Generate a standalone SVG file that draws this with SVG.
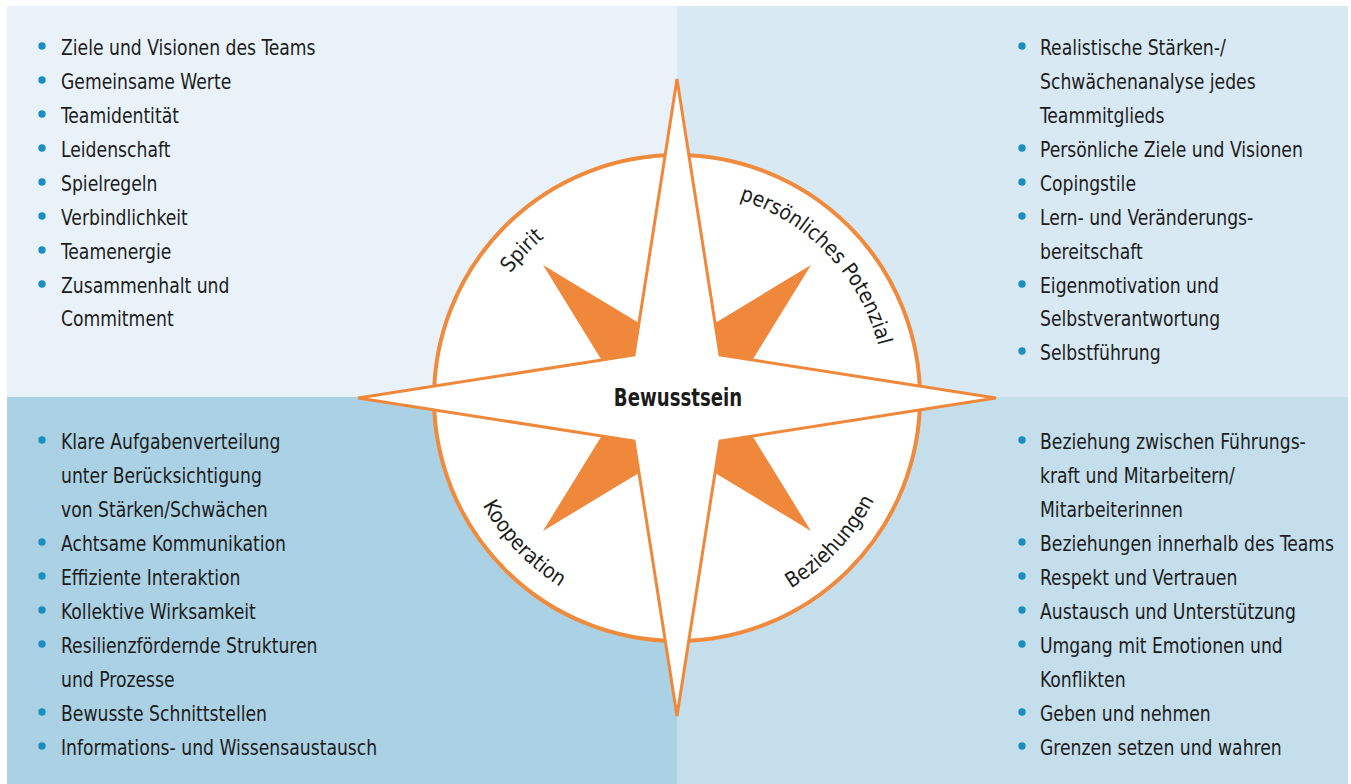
<svg xmlns="http://www.w3.org/2000/svg" xmlns:xlink="http://www.w3.org/1999/xlink" width="1351" height="784" viewBox="0 0 1351 784">
  <style>
    .item { font-family: "DejaVu Sans Condensed", "Liberation Sans", sans-serif; font-size: 22px; fill: #1c1c1c; }
    .arc { font-family: "DejaVu Sans Condensed", "Liberation Sans", sans-serif; font-size: 21px; fill: #1c1c1c; }
    .core { font-family: "DejaVu Sans Condensed", "Liberation Sans", sans-serif; font-size: 24px; font-weight: bold; fill: #1c1c1c; }
    .dot { fill: #1b8ec0; }
  </style>
  <defs>
    <!-- baseline circles for the curved labels -->
    <path id="topArc" d="M 469 398 A 208 208 0 0 1 885 398"/>
    <path id="bottomArc" d="M 455 398 A 222 222 0 0 0 899 398"/>
  </defs>

  <rect x="0" y="0" width="1351" height="784" fill="#ffffff"/>

  <!-- quadrant panels -->
  <g id="panels">
    <rect x="7" y="6" width="670" height="391" fill="#e9f2f9"/>
    <rect x="677" y="6" width="671" height="391" fill="#d8e9f3"/>
    <rect x="7" y="397" width="670" height="387" fill="#abd1e5"/>
    <rect x="677" y="397" width="671" height="387" fill="#c4deec"/>
  </g>

  <!-- compass rose -->
  <g id="compass">
    <circle cx="677" cy="398" r="243" fill="#ffffff" stroke="#f08a3c" stroke-width="4"/>
    <polygon points="677,346 811,265 729,398 811,531 677,450 543,531 625,398 543,265" fill="#f0883b"/>
    <polygon points="677,79 720,355 996,398 720,441 677,716 634,441 358,398 634,355" fill="#ffffff" stroke="#f0883b" stroke-width="3" stroke-linejoin="miter"/>
    <text class="core" transform="translate(678 406) scale(0.84 1)" x="0" y="0" text-anchor="middle">Bewusstsein</text>
  </g>

  <g id="label-spirit">
    <text class="arc" text-anchor="middle"><textPath xlink:href="#topArc" startOffset="24.2%">Spirit</textPath></text>
  </g>
  <g id="label-potenzial">
    <text class="arc" text-anchor="middle"><textPath xlink:href="#topArc" startOffset="75.8%">persönliches Potenzial</textPath></text>
  </g>
  <g id="label-kooperation">
    <text class="arc" text-anchor="middle"><textPath xlink:href="#bottomArc" startOffset="24.2%">Kooperation</textPath></text>
  </g>
  <g id="label-beziehungen">
    <text class="arc" text-anchor="middle"><textPath xlink:href="#bottomArc" startOffset="76%">Beziehungen</textPath></text>
  </g>

  <!-- top left: Spirit -->
  <g id="list-spirit">
    <circle class="dot" cx="42" cy="46" r="3.7"/>
    <circle class="dot" cx="42" cy="80" r="3.7"/>
    <circle class="dot" cx="42" cy="114" r="3.7"/>
    <circle class="dot" cx="42" cy="148" r="3.7"/>
    <circle class="dot" cx="42" cy="182" r="3.7"/>
    <circle class="dot" cx="42" cy="216" r="3.7"/>
    <circle class="dot" cx="42" cy="250" r="3.7"/>
    <circle class="dot" cx="42" cy="284" r="3.7"/>
    <g transform="translate(61 0) scale(0.87 1)">
      <text class="item" x="0" y="55">Ziele und Visionen des Teams</text>
      <text class="item" x="0" y="89">Gemeinsame Werte</text>
      <text class="item" x="0" y="123">Teamidentität</text>
      <text class="item" x="0" y="157">Leidenschaft</text>
      <text class="item" x="0" y="191">Spielregeln</text>
      <text class="item" x="0" y="225">Verbindlichkeit</text>
      <text class="item" x="0" y="259">Teamenergie</text>
      <text class="item" x="0" y="293">Zusammenhalt und</text>
      <text class="item" x="0" y="326">Commitment</text>
    </g>
  </g>

  <!-- top right: persönliches Potenzial -->
  <g id="list-potenzial">
    <circle class="dot" cx="1022" cy="46" r="3.7"/>
    <circle class="dot" cx="1022" cy="148" r="3.7"/>
    <circle class="dot" cx="1022" cy="182" r="3.7"/>
    <circle class="dot" cx="1022" cy="216" r="3.7"/>
    <circle class="dot" cx="1022" cy="284" r="3.7"/>
    <circle class="dot" cx="1022" cy="351" r="3.7"/>
    <g transform="translate(1040 0) scale(0.87 1)">
      <text class="item" x="0" y="55">Realistische Stärken-/</text>
      <text class="item" x="0" y="89">Schwächenanalyse jedes</text>
      <text class="item" x="0" y="123">Teammitglieds</text>
      <text class="item" x="0" y="157">Persönliche Ziele und Visionen</text>
      <text class="item" x="0" y="191">Copingstile</text>
      <text class="item" x="0" y="225">Lern- und Veränderungs-</text>
      <text class="item" x="0" y="259">bereitschaft</text>
      <text class="item" x="0" y="293">Eigenmotivation und</text>
      <text class="item" x="0" y="326">Selbstverantwortung</text>
      <text class="item" x="0" y="360">Selbstführung</text>
    </g>
  </g>

  <!-- bottom left: Kooperation -->
  <g id="list-kooperation">
    <circle class="dot" cx="42" cy="440" r="3.7"/>
    <circle class="dot" cx="42" cy="542" r="3.7"/>
    <circle class="dot" cx="42" cy="576" r="3.7"/>
    <circle class="dot" cx="42" cy="610" r="3.7"/>
    <circle class="dot" cx="42" cy="644" r="3.7"/>
    <circle class="dot" cx="42" cy="712" r="3.7"/>
    <circle class="dot" cx="42" cy="746" r="3.7"/>
    <g transform="translate(61 0) scale(0.87 1)">
      <text class="item" x="0" y="449">Klare Aufgabenverteilung</text>
      <text class="item" x="0" y="483">unter Berücksichtigung</text>
      <text class="item" x="0" y="517">von Stärken/Schwächen</text>
      <text class="item" x="0" y="551">Achtsame Kommunikation</text>
      <text class="item" x="0" y="585">Effiziente Interaktion</text>
      <text class="item" x="0" y="619">Kollektive Wirksamkeit</text>
      <text class="item" x="0" y="653">Resilienzfördernde Strukturen</text>
      <text class="item" x="0" y="687">und Prozesse</text>
      <text class="item" x="0" y="721">Bewusste Schnittstellen</text>
      <text class="item" x="0" y="755">Informations- und Wissensaustausch</text>
    </g>
  </g>

  <!-- bottom right: Beziehungen -->
  <g id="list-beziehungen">
    <circle class="dot" cx="1022" cy="440" r="3.7"/>
    <circle class="dot" cx="1022" cy="542" r="3.7"/>
    <circle class="dot" cx="1022" cy="576" r="3.7"/>
    <circle class="dot" cx="1022" cy="610" r="3.7"/>
    <circle class="dot" cx="1022" cy="644" r="3.7"/>
    <circle class="dot" cx="1022" cy="712" r="3.7"/>
    <circle class="dot" cx="1022" cy="746" r="3.7"/>
    <g transform="translate(1040 0) scale(0.87 1)">
      <text class="item" x="0" y="449">Beziehung zwischen Führungs-</text>
      <text class="item" x="0" y="483">kraft und Mitarbeitern/</text>
      <text class="item" x="0" y="517">Mitarbeiterinnen</text>
      <text class="item" x="0" y="551">Beziehungen innerhalb des Teams</text>
      <text class="item" x="0" y="585">Respekt und Vertrauen</text>
      <text class="item" x="0" y="619">Austausch und Unterstützung</text>
      <text class="item" x="0" y="653">Umgang mit Emotionen und</text>
      <text class="item" x="0" y="687">Konflikten</text>
      <text class="item" x="0" y="721">Geben und nehmen</text>
      <text class="item" x="0" y="755">Grenzen setzen und wahren</text>
    </g>
  </g>
</svg>
